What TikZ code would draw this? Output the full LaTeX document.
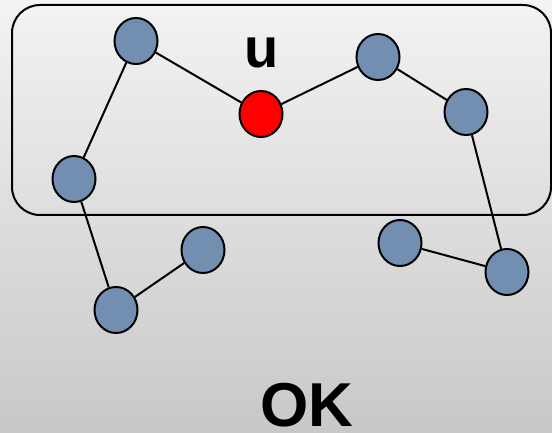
\documentclass[tikz,border=0pt]{standalone}
\usepackage{fontspec}
\setmainfont{Liberation Sans}
\usetikzlibrary{shapes.geometric}
\definecolor{bgtop}{RGB}{243,243,243}
\definecolor{bgbot}{RGB}{200,200,200}
\definecolor{vblue}{RGB}{114,143,177}
\tikzset{
  vtx/.style   ={ellipse,draw=black,line width=2pt,minimum width=43pt,
                 minimum height=46pt,inner sep=0pt,fill=vblue},
  vtxred/.style={vtx,fill=red},
  ed/.style    ={draw=black,line width=2pt},
  cut/.style   ={draw=black,line width=2pt,rounded corners=28pt},
  ann/.style   ={font=\bfseries,inner sep=0pt,anchor=base},
}

\begin{document}
\begin{tikzpicture}[x=1pt,y=-1pt]

% backdrop, also fixes the page size
\shade[top color=bgtop,bottom color=bgbot] (0,0) rectangle (552,433);
\useasboundingbox (0,0) rectangle (552,433);

% the set around u
\draw[cut] (12,5) rectangle (551,215);

\node[vtx]    (a) at (136, 41) {};
\node[vtx]    (b) at (74,179)  {};
\node[vtxred] (u) at (261,114) {};
\node[vtx]    (c) at (378, 57) {};
\node[vtx]    (d) at (466,112) {};
\node[vtx]    (e) at (116,310) {};
\node[vtx]    (f) at (203,250) {};
\node[vtx]    (g) at (400,243) {};
\node[vtx]    (h) at (507,272) {};

\draw[ed] (b) -- (a);
\draw[ed] (a) -- (u);
\draw[ed] (u) -- (c);
\draw[ed] (c) -- (d);
\draw[ed] (d) -- (h);
\draw[ed] (b) -- (e);
\draw[ed] (e) -- (f);
\draw[ed] (g) -- (h);

\node[ann,font=\fontsize{56}{56}\selectfont\bfseries] (ulbl) at (262,68) {u};
\node[ann,font=\fontsize{62}{62}\selectfont\bfseries] (ok) at (307,426) {OK};

\end{tikzpicture}
\end{document}
